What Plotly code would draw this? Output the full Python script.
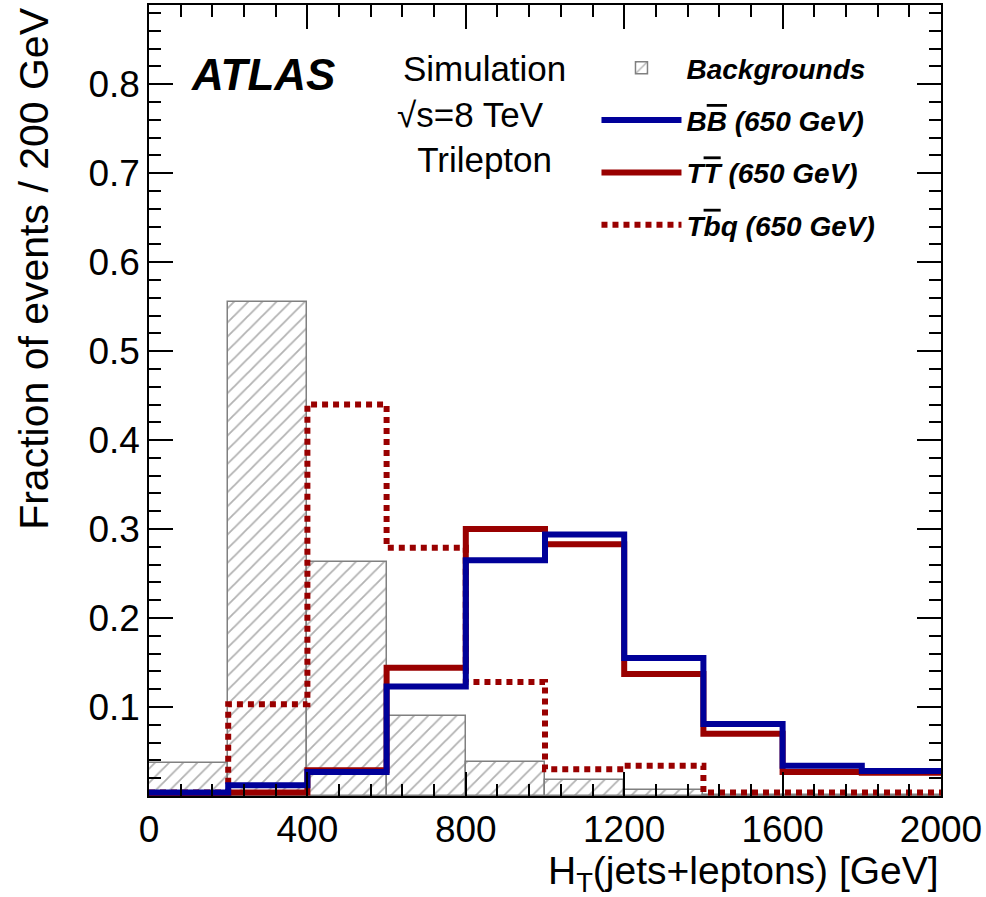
import plotly.graph_objects as go

# ---- data ----
bin_edges = [0, 200, 400, 600, 800, 1000, 1200, 1400, 1600, 1800, 2000]
backgrounds = [0.037, 0.555, 0.263, 0.090, 0.038, 0.018, 0.007, 0.001, 0.001, 0.001]
bb_650 = [0.004, 0.012, 0.027, 0.123, 0.265, 0.294, 0.155, 0.081, 0.034, 0.028]
tt_650 = [0.003, 0.004, 0.029, 0.144, 0.300, 0.283, 0.137, 0.070, 0.027, 0.026]
tbq_650 = [0.004, 0.103, 0.440, 0.279, 0.128, 0.030, 0.034, 0.004, 0.004, 0.004]

x_ticks = [0, 400, 800, 1200, 1600, 2000]
x_tick_labels = ["0", "400", "800", "1200", "1600", "2000"]
y_ticks = [0.1, 0.2, 0.3, 0.4, 0.5, 0.6, 0.7, 0.8]
y_tick_labels = ["0.1", "0.2", "0.3", "0.4", "0.5", "0.6", "0.7", "0.8"]

BLUE = "#000099"
RED = "#990000"
FONT = "Liberation Sans, Arial, Helvetica, sans-serif"

centers = [(a + b) / 2 for a, b in zip(bin_edges[:-1], bin_edges[1:])]
widths = [b - a for a, b in zip(bin_edges[:-1], bin_edges[1:])]


def step_y(vals):
    return list(vals) + [vals[-1]]


fig = go.Figure()

fig.add_trace(go.Bar(
    x=centers, y=backgrounds, width=widths,
    name="<b><i>Backgrounds</i></b>",
    marker=dict(color="white",
                line=dict(color="#808080", width=1.5),
                pattern=dict(shape="/", fgcolor="#666666", bgcolor="white",
                             size=10, solidity=0.18)),
    legendrank=1, legendgroup="g1",
))

fig.add_trace(go.Scatter(
    x=bin_edges, y=step_y(tbq_650), mode="lines", line_shape="hv",
    line=dict(color=RED, width=6, dash="6px,5px"),
    name="<b><i>T<span style='text-decoration:overline'>b</span>q (650 GeV)</i></b>",
    legendrank=4, legendgroup="g4",
))

fig.add_trace(go.Scatter(
    x=bin_edges, y=step_y(tt_650), mode="lines", line_shape="hv",
    line=dict(color=RED, width=6),
    name="<b><i>T<span style='text-decoration:overline'>T</span> (650 GeV)</i></b>",
    legendrank=3, legendgroup="g3",
))

fig.add_trace(go.Scatter(
    x=bin_edges, y=step_y(bb_650), mode="lines", line_shape="hv",
    line=dict(color=BLUE, width=6),
    name="<b><i>B<span style='text-decoration:overline'>B</span> (650 GeV)</i></b>",
    legendrank=2, legendgroup="g2",
))

axis_common = dict(
    showline=True, linecolor="black", linewidth=1.5, mirror="allticks",
    ticks="inside", tickcolor="black", tickwidth=1.5, ticklen=24,
    showgrid=False, zeroline=False, automargin=False,
    ticklabeloverflow="allow",
    tickfont=dict(family=FONT, size=37, color="black"),
)

fig.update_xaxes(
    range=[0, 2000], tickvals=x_ticks, ticktext=x_tick_labels,
    minor=dict(ticks="inside", ticklen=12, dtick=80, tick0=0,
               tickcolor="black", tickwidth=1.5),
    **axis_common,
)
fig.update_yaxes(
    range=[0, 0.889], tickvals=y_ticks, ticktext=y_tick_labels,
    minor=dict(ticks="inside", ticklen=12, dtick=0.02, tick0=0,
               tickcolor="black", tickwidth=1.5),
    **axis_common,
)

annotations = [
    dict(text="<b><i>ATLAS</i></b>", x=0.05, y=0.912, xanchor="left", yanchor="middle",
         font=dict(family=FONT, size=44, color="black")),
    dict(text="Simulation<br>√s=8 TeV\u00a0\u00a0\u00a0<br>Trilepton",
         x=0.424, y=0.947, xanchor="center", yanchor="top", align="center",
         font=dict(family=FONT, size=35, color="black")),
    dict(text="Fraction of events / 200 GeV", textangle=-90, x=-0.146, y=1.0,
         xanchor="center", yanchor="top",
         font=dict(family=FONT, size=41, color="black")),
    dict(text="H<sub>T</sub>(jets+leptons) [GeV]", x=1.0, y=-0.132,
         xanchor="right", yanchor="bottom",
         font=dict(family=FONT, size=39, color="black")),
]
for a in annotations:
    a.update(xref="paper", yref="paper", showarrow=False)

fig.update_layout(
    width=986, height=897,
    margin=dict(l=149, r=45, t=5, b=101),
    paper_bgcolor="white", plot_bgcolor="white",
    barmode="overlay", bargap=0,
    annotations=annotations,
    legend=dict(x=0.565, y=0.952, xanchor="left", yanchor="top",
                bgcolor="rgba(0,0,0,0)", borderwidth=0,
                font=dict(family=FONT, size=28, color="black"),
                itemwidth=80, tracegroupgap=13),
    showlegend=True,
)

fig.write_html("out.html",
               config={"displayModeBar": False},
               post_script="document.body.style.margin='0';document.body.style.overflow='hidden';")
